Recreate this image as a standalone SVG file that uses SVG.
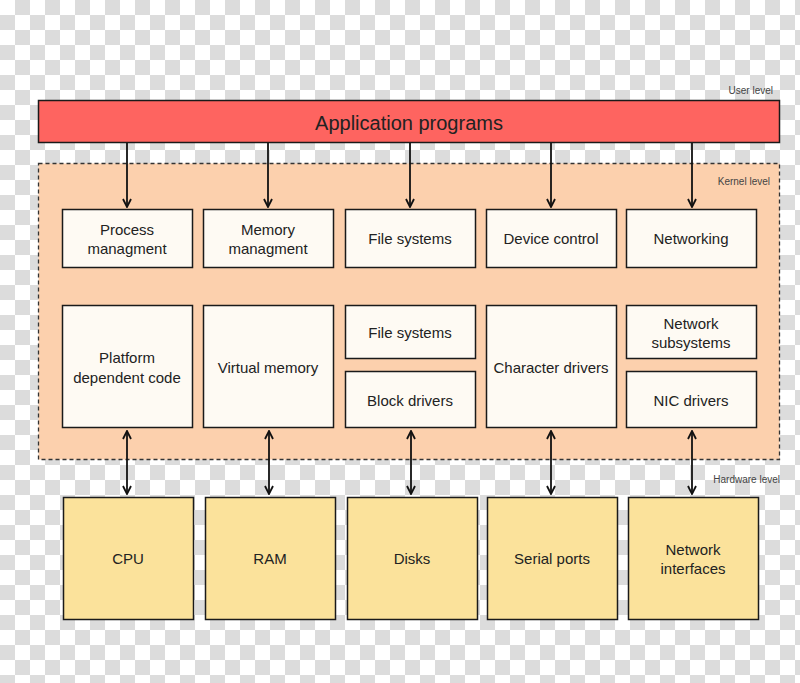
<svg xmlns="http://www.w3.org/2000/svg" width="800" height="683" viewBox="0 0 800 683">
<defs>
<pattern id="checker" width="30" height="30" patternUnits="userSpaceOnUse">
<rect width="30" height="30" fill="#ffffff"/>
<rect x="15" y="0" width="15" height="15" fill="#dcdcdc"/>
<rect x="0" y="15" width="15" height="15" fill="#dcdcdc"/>
</pattern>
<marker id="head" viewBox="0 0 10 10" refX="9" refY="5" markerWidth="10" markerHeight="10" markerUnits="userSpaceOnUse" orient="auto-start-reverse">
<path d="M1,1 L9,5 L1,9" fill="none" stroke="#111" stroke-width="1.8"/>
</marker>
<style>
.kbox{fill:#fefaf3;stroke:#1a1a1a;stroke-width:1.5}
.hbox{fill:#fbe29b;stroke:#1a1a1a;stroke-width:1.5}
.t{font-family:"Liberation Sans",Arial,sans-serif;font-size:15px;fill:#222;text-anchor:middle}
.lvl{font-family:"Liberation Sans",Arial,sans-serif;font-size:10px;fill:#444;text-anchor:end}
.conn{stroke:#111;stroke-width:1.8;fill:none}
</style>
</defs>
<rect width="800" height="683" fill="url(#checker)"/>

<g id="user-level">
<text class="lvl" x="773" y="94">User level</text>
</g>
<g id="application-programs">
<rect x="38.5" y="100.5" width="741" height="42" fill="#fe6460" stroke="#1a1a1a" stroke-width="1.5"/>
<text class="t" x="409" y="130" style="font-size:20px">Application programs</text>
</g>

<g id="kernel">
<rect x="38.5" y="163.5" width="741" height="296" fill="#fcd0ad" stroke="#333" stroke-width="1.3" stroke-dasharray="4,3"/>
<text class="lvl" x="770" y="185">Kernel level</text>
</g>

<g id="process-managment"><rect class="kbox" x="62.5" y="209.5" width="130" height="58"/><text class="t" x="127" y="235">Process</text><text class="t" x="127" y="254">managment</text></g>
<g id="memory-managment"><rect class="kbox" x="203.5" y="209.5" width="130" height="58"/><text class="t" x="268" y="235">Memory</text><text class="t" x="268" y="254">managment</text></g>
<g id="file-systems-top"><rect class="kbox" x="345.5" y="209.5" width="130" height="58"/><text class="t" x="410" y="244">File systems</text></g>
<g id="device-control"><rect class="kbox" x="486.5" y="209.5" width="130" height="58"/><text class="t" x="551" y="244">Device control</text></g>
<g id="networking"><rect class="kbox" x="626.5" y="209.5" width="130" height="58"/><text class="t" x="691" y="244">Networking</text></g>

<g id="platform-dependent-code"><rect class="kbox" x="62.5" y="305.5" width="130" height="122"/><text class="t" x="127" y="363">Platform</text><text class="t" x="127" y="383">dependent code</text></g>
<g id="virtual-memory"><rect class="kbox" x="203.5" y="305.5" width="130" height="122"/><text class="t" x="268" y="373">Virtual memory</text></g>
<g id="file-systems"><rect class="kbox" x="345.5" y="305.5" width="130" height="53"/><text class="t" x="410" y="338">File systems</text></g>
<g id="block-drivers"><rect class="kbox" x="345.5" y="371.5" width="130" height="56"/><text class="t" x="410" y="406">Block drivers</text></g>
<g id="character-drivers"><rect class="kbox" x="486.5" y="305.5" width="130" height="122"/><text class="t" x="551" y="373">Character drivers</text></g>
<g id="network-subsystems"><rect class="kbox" x="626.5" y="305.5" width="130" height="53"/><text class="t" x="691" y="329">Network</text><text class="t" x="691" y="348">subsystems</text></g>
<g id="nic-drivers"><rect class="kbox" x="626.5" y="371.5" width="130" height="56"/><text class="t" x="691" y="406">NIC drivers</text></g>

<g id="hardware-level"><text class="lvl" x="780" y="483">Hardware level</text></g>
<g id="cpu"><rect class="hbox" x="63.5" y="497.5" width="130" height="122"/><text class="t" x="128" y="564">CPU</text></g>
<g id="ram"><rect class="hbox" x="205.5" y="497.5" width="130" height="122"/><text class="t" x="270" y="564">RAM</text></g>
<g id="disks"><rect class="hbox" x="347.5" y="497.5" width="130" height="122"/><text class="t" x="412" y="564">Disks</text></g>
<g id="serial-ports"><rect class="hbox" x="487.5" y="497.5" width="130" height="122"/><text class="t" x="552" y="564">Serial ports</text></g>
<g id="network-interfaces"><rect class="hbox" x="628.5" y="497.5" width="130" height="122"/><text class="t" x="693" y="555">Network</text><text class="t" x="693" y="574">interfaces</text></g>

<g id="connectors">
<line class="conn" x1="127" y1="143" x2="127" y2="207" marker-end="url(#head)"/>
<line class="conn" x1="268" y1="143" x2="268" y2="207" marker-end="url(#head)"/>
<line class="conn" x1="410" y1="143" x2="410" y2="207" marker-end="url(#head)"/>
<line class="conn" x1="551" y1="143" x2="551" y2="207" marker-end="url(#head)"/>
<line class="conn" x1="692" y1="143" x2="692" y2="207" marker-end="url(#head)"/>
<line class="conn" x1="127" y1="431" x2="127" y2="494" marker-start="url(#head)" marker-end="url(#head)"/>
<line class="conn" x1="269" y1="431" x2="269" y2="494" marker-start="url(#head)" marker-end="url(#head)"/>
<line class="conn" x1="411" y1="431" x2="411" y2="494" marker-start="url(#head)" marker-end="url(#head)"/>
<line class="conn" x1="551" y1="431" x2="551" y2="494" marker-start="url(#head)" marker-end="url(#head)"/>
<line class="conn" x1="692" y1="431" x2="692" y2="494" marker-start="url(#head)" marker-end="url(#head)"/>
</g>
</svg>
